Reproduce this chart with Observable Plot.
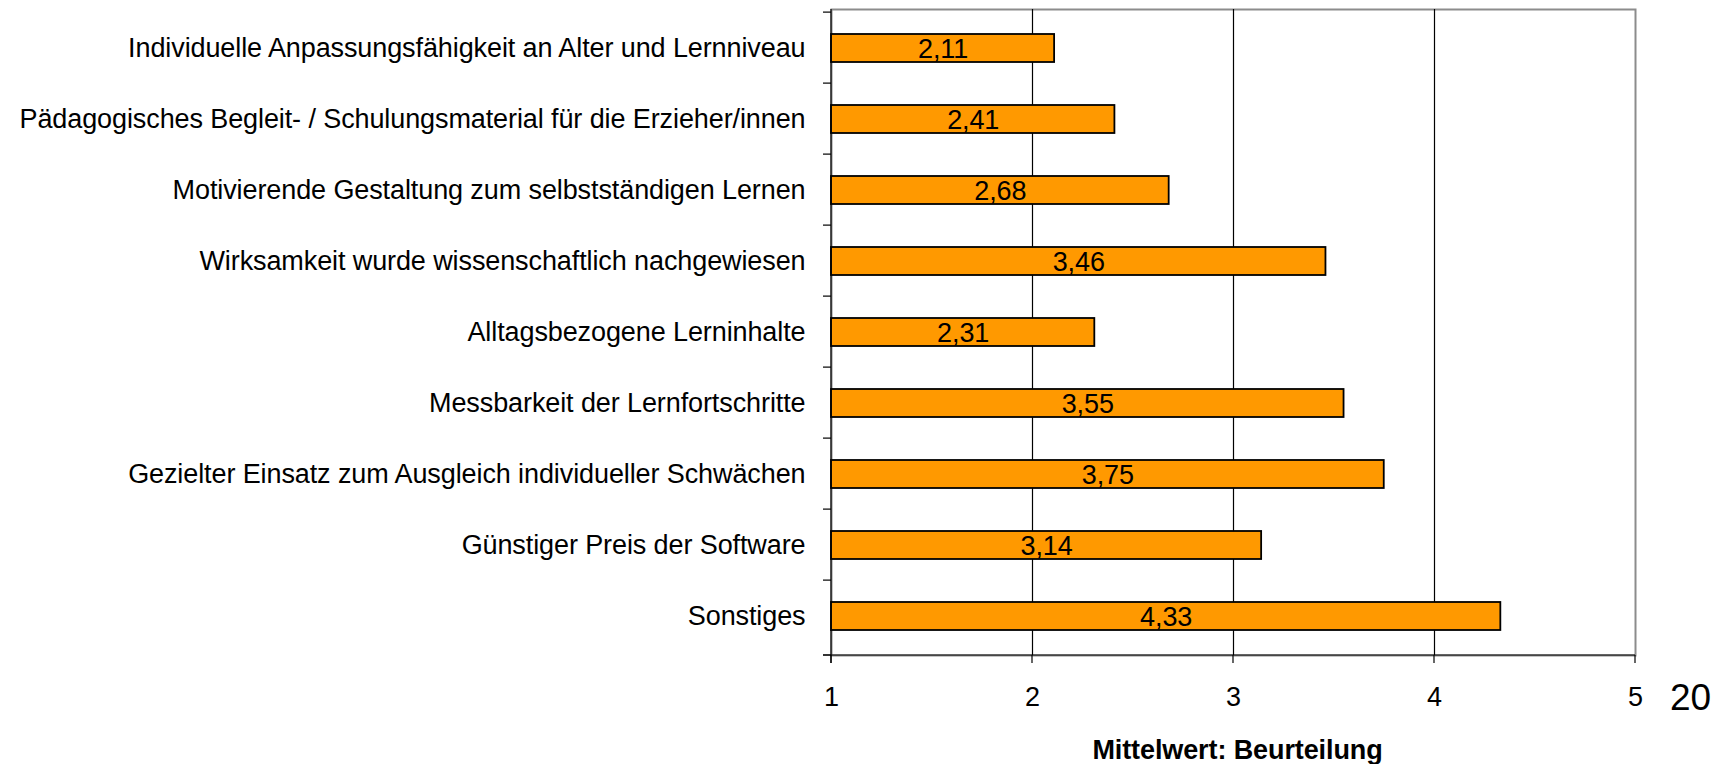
<!DOCTYPE html>
<html>
<head>
<meta charset="utf-8">
<script src="https://cdn.jsdelivr.net/npm/d3@7"></script>
<script src="https://cdn.jsdelivr.net/npm/@observablehq/plot@0.6"></script>
<style>
  html, body { margin: 0; padding: 0; background: #fff; }
  #chart svg { display: block; font-family: "Liberation Sans", Arial, sans-serif; }
  #chart svg text { letter-spacing: -0.1px; }
</style>
</head>
<body>
<div id="chart"></div>
<script>
const categories = [
  "Individuelle Anpassungsfähigkeit an Alter und Lernniveau",
  "Pädagogisches Begleit- / Schulungsmaterial für die Erzieher/innen",
  "Motivierende Gestaltung zum selbstständigen Lernen",
  "Wirksamkeit wurde wissenschaftlich nachgewiesen",
  "Alltagsbezogene Lerninhalte",
  "Messbarkeit der Lernfortschritte",
  "Gezielter Einsatz zum Ausgleich individueller Schwächen",
  "Günstiger Preis der Software",
  "Sonstiges"
];
const values = [2.11, 2.41, 2.68, 3.46, 2.31, 3.55, 3.75, 3.14, 4.33];
const xTicks = [1, 2, 3, 4, 5];
const gridTicks = [2, 3, 4];
const xLabel = "Mittelwert: Beurteilung";
const pageNumber = "20";

const data = categories.map((c, i) => ({category: c, value: values[i]}));
const fmt = v => v.toFixed(2).replace(".", ",");

const W = 1733, H = 764;
const mL = 831, mR = 98, mT = 9, mB = 109;
const padInner = 0.61;

// custom mark: axis lines, band-boundary ticks on y, ticks on x
const axesMark = (index, scales, values, dims) => {
  const g = d3.create("svg:g").attr("stroke", "#000").attr("stroke-width", 1.2).attr("fill", "none");
  const x0 = dims.marginLeft, x1 = dims.width - dims.marginRight;
  const y0 = dims.marginTop, y1 = dims.height - dims.marginBottom;
  const step = (y1 - y0) / categories.length;
  g.append("line").attr("x1", x0).attr("x2", x0).attr("y1", y0).attr("y2", y1 + 8);
  g.append("line").attr("x1", x0 - 8).attr("x2", x1).attr("y1", y1).attr("y2", y1);
  for (let i = 0; i <= categories.length; i++) {
    const yy = i < categories.length
      ? scales.y(categories[i]) - step * padInner / 2
      : y1;
    g.append("line").attr("x1", x0 - 8).attr("x2", x0).attr("y1", yy).attr("y2", yy);
  }
  for (const t of xTicks) {
    const xx = scales.x(t);
    g.append("line").attr("x1", xx).attr("x2", xx).attr("y1", y1).attr("y2", y1 + 8);
  }
  return g.node();
};

const chart = Plot.plot({
  width: W,
  height: H,
  marginLeft: mL,
  marginRight: mR,
  marginTop: mT,
  marginBottom: mB,
  style: {fontFamily: "'Liberation Sans', Arial, sans-serif", fontSize: "27px", color: "#000", background: "#fff"},
  x: {domain: [1, 5], ticks: xTicks},
  y: {domain: categories, paddingInner: padInner, paddingOuter: padInner / 2, align: 0.5},
  marks: [
    Plot.frame({stroke: "#8c8c8c", strokeWidth: 2}),
    Plot.ruleX(gridTicks, {stroke: "#000", strokeWidth: 1.2}),
    Plot.barX(data, {x1: 1, x2: "value", y: "category", fill: "#FF9900", stroke: "#000", strokeWidth: 1.8}),
    Plot.text(data, {
      x: d => (1 + d.value) / 2, y: "category", text: d => fmt(d.value),
      fill: "#000", fontSize: 27, textAnchor: "middle", dy: 1
    }),
    axesMark,
    Plot.axisX({ticks: xTicks, tickSize: 0, tickPadding: 31, fontSize: 27, label: null, tickFormat: d => String(d)}),
    Plot.axisY({tickSize: 0, tickPadding: 26, fontSize: 27, label: null}),
    Plot.text([xLabel], {frameAnchor: "bottom", lineAnchor: "middle", textAnchor: "middle", dx: 4, dy: 95, text: d => d, fontSize: 27, fontWeight: "bold", fill: "#000"}),
    Plot.text([pageNumber], {frameAnchor: "bottom-right", lineAnchor: "middle", textAnchor: "middle", dx: 55, dy: 43, text: d => d, fontSize: 37, fill: "#000"})
  ]
});

document.getElementById("chart").appendChild(chart);
</script>
</body>
</html>
